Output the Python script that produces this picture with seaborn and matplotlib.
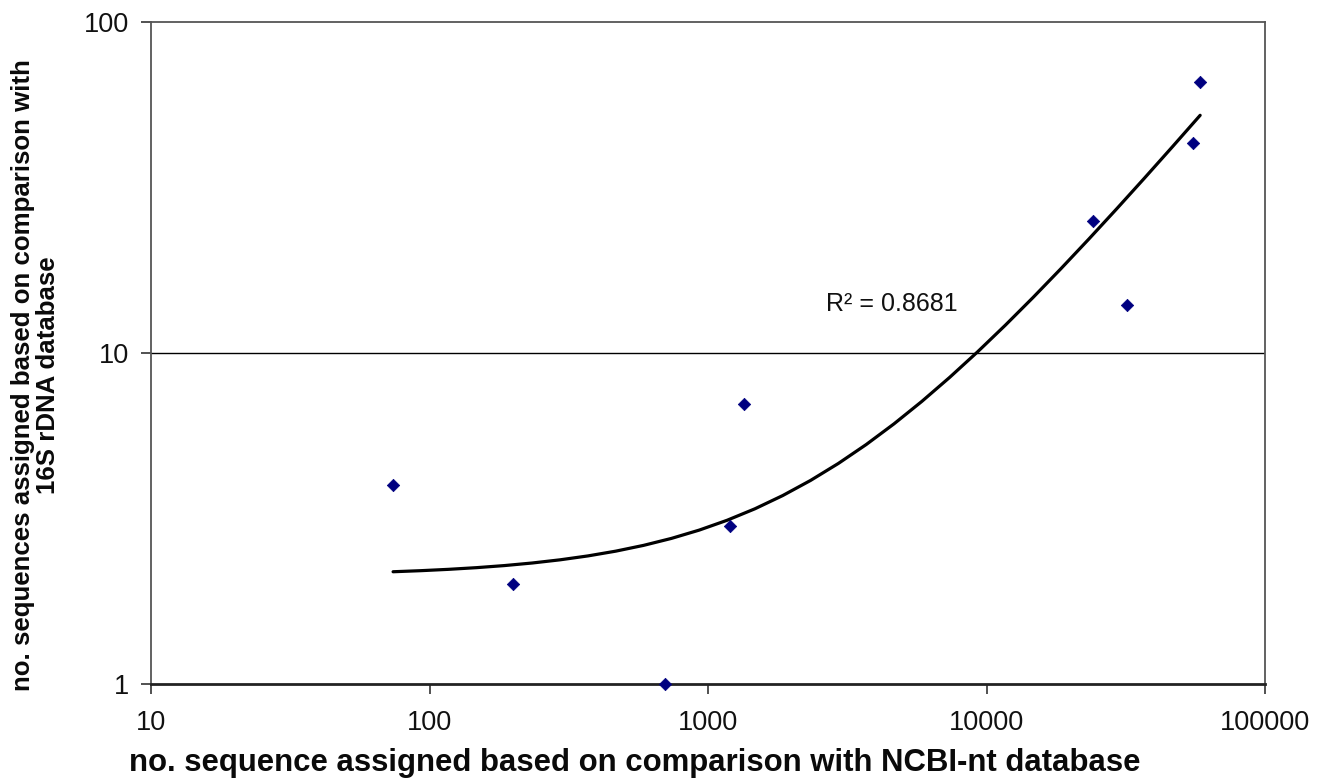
import numpy as np
import pandas as pd
import seaborn as sns
import matplotlib
matplotlib.use('Agg')
import matplotlib.pyplot as plt
from matplotlib.ticker import FixedLocator, NullLocator

# Data
ncbi_counts = [74, 200, 700, 1200, 1350, 24200, 32000, 55200, 58500]
rdna_counts = [4, 2, 1, 3, 7, 25, 14, 43, 66]
x_ticks = [10, 100, 1000, 10000, 100000]
y_ticks = [1, 10, 100]

# linear trendline as shown on the chart (y = a*x + b, R² = 0.8681)
trend_slope = 0.000857
trend_intercept = 2.12
r2_label = 'R² = 0.8681'

df = pd.DataFrame({'ncbi': ncbi_counts, 'rdna': rdna_counts})

trend_x = np.geomspace(df['ncbi'].min(), df['ncbi'].max(), 30)
trend = pd.DataFrame({'ncbi': trend_x, 'rdna': trend_slope * trend_x + trend_intercept})

sns.set_style('white')
plt.rcParams['font.family'] = ['Liberation Sans', 'DejaVu Sans']

fig = plt.figure(figsize=(13.22, 7.78), dpi=100)
ax = fig.add_axes([151 / 1322, 1 - 684 / 778, (1265 - 151) / 1322, (684 - 22) / 778])

ax.set_xscale('log')
ax.set_yscale('log')

sns.lineplot(data=trend, x='ncbi', y='rdna', ax=ax, color='black', linewidth=2.3,
             zorder=3)
sns.scatterplot(data=df, x='ncbi', y='rdna', ax=ax, marker='D', s=40,
                color='#000080', edgecolor='#000080', zorder=4, clip_on=False)

ax.set_xlim(10, 100000)
ax.set_ylim(1, 100)
ax.xaxis.set_major_locator(FixedLocator(x_ticks))
ax.yaxis.set_major_locator(FixedLocator(y_ticks))
ax.xaxis.set_minor_locator(NullLocator())
ax.yaxis.set_minor_locator(NullLocator())
ax.set_xticklabels([str(t) for t in x_ticks])
ax.set_yticklabels([str(t) for t in y_ticks])
ax.tick_params(axis='both', direction='out', length=7, width=1.2, color='#333333',
               labelsize=19.5, bottom=True, left=True, labelcolor='#111111')
ax.tick_params(axis='x', pad=12)
ax.tick_params(axis='y', pad=9)

ax.axhline(10, color='black', linewidth=1.0, zorder=1)

for side in ['top', 'right', 'left']:
    ax.spines[side].set_color('#555555')
    ax.spines[side].set_linewidth(1.3)
ax.spines['bottom'].set_color('#222222')
ax.spines['bottom'].set_linewidth(2.0)

ax.set_xlabel('no. sequence assigned based on comparison with NCBI-nt database',
              fontsize=22.4, fontweight='bold', color='#0a0a0a')
ax.xaxis.set_label_coords(0.434, -0.096)
ax.set_ylabel('no. sequences assigned based on comparison with\n16S rDNA database',
              fontsize=18.6, fontweight='bold', linespacing=1.05, color='#0a0a0a')
ax.yaxis.set_label_coords(-0.082, 0.467)

ax.text(2650, 14.1, r2_label, fontsize=18, ha='left', va='center', color='#111111')

plt.savefig('out.png', dpi=100)
plt.close()
